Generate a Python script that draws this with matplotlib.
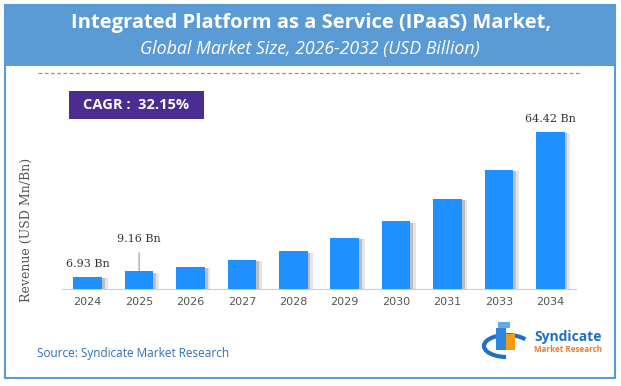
import matplotlib
matplotlib.use("Agg")
import matplotlib.pyplot as plt
import matplotlib.patches as mpatches
import matplotlib.patheffects as pe

W, H = 621, 386

years = ["2024", "2025", "2026", "2027", "2028", "2029", "2030", "2031", "2033", "2034"]
revenue = [6.93, 9.16, 10.9, 13.7, 17.2, 22.4, 29.1, 37.9, 49.4, 64.42]
labelled = {0: "6.93 Bn", 1: "9.16 Bn", 9: "64.42 Bn"}

title = "Integrated Platform as a Service (IPaaS) Market,"
subtitle = "Global Market Size, 2026-2032 (USD Billion)"
cagr_text = "CAGR :  32.15%"
source_text = "Source: Syndicate Market Research"

BLUE_BAR = "#1E90FF"
BANNER = "#5B9BD5"
PURPLE = "#4B2C91"


def fx(px):
    return px / W


def fy(py):
    return 1 - py / H


fig = plt.figure(figsize=(W / 100, H / 100), dpi=100)
fig.patch.set_facecolor("white")

# outer frame + banner
bg = fig.add_axes([0, 0, 1, 1])
bg.set_xlim(0, W)
bg.set_ylim(H, 0)
bg.axis("off")
bg.add_patch(mpatches.Rectangle((5, 5), 610, 373, fill=False, edgecolor=BANNER, linewidth=1.5))
bg.add_patch(mpatches.Rectangle((5, 5), 610, 61, facecolor=BANNER, edgecolor="none"))
bg.text(311, 23, title, ha="center", va="center", color="white",
        fontsize=14.5, fontweight="bold", family="Open Sans")
bg.text(310, 49, subtitle, ha="center", va="center", color="white",
        fontsize=12.8, style="italic", family="Open Sans")
bg.plot([38, 582], [73, 73], color="#ED7D31", linewidth=0.9, linestyle=(0, (3, 2)))

# CAGR box
bg.add_patch(mpatches.Rectangle((69, 91), 135, 28, facecolor=PURPLE, edgecolor="none"))
bg.text(136, 105, cagr_text, ha="center", va="center", color="white",
        fontsize=10.5, fontweight="bold", family="Open Sans")

# source + logo
bg.text(37, 354, source_text, ha="left", va="center", color="#2F6EB5",
        fontsize=8.5, family="Open Sans")
bg.add_patch(mpatches.Arc((507, 346), 46, 22, theta1=95, theta2=340,
                          color="#1F6FC5", linewidth=3))
bg.add_patch(mpatches.Rectangle((496, 328), 10, 22, facecolor="#2E86DE", edgecolor="none"))
bg.add_patch(mpatches.Rectangle((506, 334), 9, 16, facecolor="#F39C12", edgecolor="none"))
bg.add_patch(mpatches.Rectangle((498, 322), 12, 6, facecolor="#5DADE2", edgecolor="none"))
bg.text(534, 337, "Syndicate", ha="left", va="center", color="#1F6FC5",
        fontsize=10, fontweight="bold", family="Open Sans")
bg.text(534, 350, "Market Research", ha="left", va="center", color="#ED7D31",
        fontsize=5.8, fontweight="bold", family="Open Sans")

# bar chart
ax = fig.add_axes([fx(62), fy(289), fx(576) - fx(62), (289 - 100) / H])
x = list(range(len(years)))
shadow = [pe.SimplePatchShadow(offset=(4, -1), shadow_rgbFace="#999999", alpha=0.25),
          pe.SimplePatchShadow(offset=(2, -1), shadow_rgbFace="#777777", alpha=0.35),
          pe.Normal()]
bars = ax.bar(x, revenue, width=0.56, color=BLUE_BAR, zorder=3, path_effects=shadow)
ax.set_xlim(-0.5, len(years) - 0.5)
ax.set_ylim(2.2, 77.1)
ax.set_xticks(x)
ax.set_xticklabels(years, fontsize=8, color="#555555", family="DejaVu Sans")
ax.tick_params(axis="x", length=0, pad=6)
ax.set_yticks([])
for side in ["top", "right", "left"]:
    ax.spines[side].set_visible(False)
ax.spines["bottom"].set_color("#cccccc")
ax.set_facecolor("none")
ax.set_ylabel("Revenue (USD Mn/Bn)", fontsize=9, color="#555555", family="DejaVu Serif")
ax.yaxis.set_label_coords(-0.056, 0.31)

for i, txt in labelled.items():
    if i == 1:
        ax.annotate(txt, (x[i], revenue[i]), xytext=(0, 32), textcoords="offset pixels",
                    ha="center", va="center", fontsize=8, color="#333333", family="DejaVu Serif",
                    arrowprops=dict(arrowstyle="-", color="#888888", lw=0.7, shrinkA=4, shrinkB=0))
    else:
        ax.annotate(txt, (x[i], revenue[i]), xytext=(0, 13), textcoords="offset pixels",
                    ha="center", va="center", fontsize=8, color="#333333", family="DejaVu Serif")

fig.savefig("out.png", dpi=100)
